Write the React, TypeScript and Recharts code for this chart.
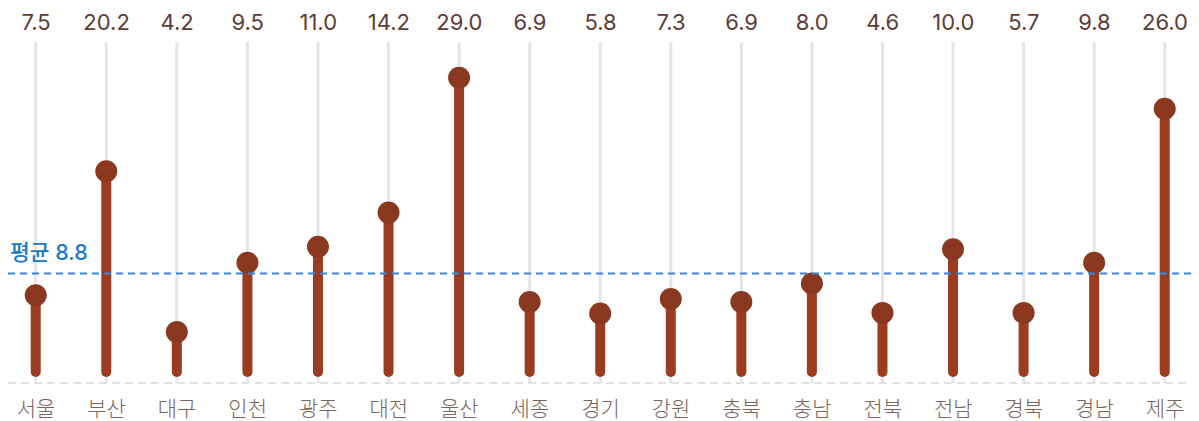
import React from 'react';
import { ComposedChart, Bar, XAxis, YAxis, ReferenceLine, Line } from 'recharts';

const regions = ['서울', '부산', '대구', '인천', '광주', '대전', '울산', '세종', '경기', '강원', '충북', '충남', '전북', '전남', '경북', '경남', '제주'];
const shownValues = ['7.5', '20.2', '4.2', '9.5', '11.0', '14.2', '29.0', '6.9', '5.8', '7.3', '6.9', '8.0', '4.6', '10.0', '5.7', '9.8', '26.0'];
const plottedValues = [7.9, 19.9, 4.35, 11.05, 12.6, 15.9, 28.95, 7.25, 6.15, 7.55, 7.25, 9.05, 6.2, 12.35, 6.2, 11.05, 25.95];
const averagePlotted = 10.0;
const averageLabel = '평균 8.8';
const yDomain = [-0.58, 32.4];

const data = regions.map((name, i) => ({ name, shown: shownValues[i], value: plottedValues[i] }));

const STEM = '#9b3c21';
const DOT = '#8a3920';
const FONT = '"Noto Sans CJK KR", "Noto Sans", sans-serif';
const NUM_FONT = 'Inter, "Noto Sans CJK KR", sans-serif';

const Lollipop = (props: any) => {
  const { x, y, width, height } = props;
  const cx = x + width / 2;
  const base = y + height;
  return (
    <g>
      <line x1={cx} x2={cx} y1={base - 5} y2={y} stroke={STEM} strokeWidth={10} strokeLinecap="round" />
      <circle cx={cx} cy={y} r={11} fill={DOT} />
    </g>
  );
};

const GridLine = (props: any) => {
  const { x, y, width, height } = props;
  const cx = x + width / 2;
  return <line x1={cx} x2={cx} y1={y} y2={y + height} stroke="#e6e6e6" strokeWidth={3} />;
};

const TopTick = (props: any) => {
  const { x, y, payload } = props;
  const label = shownValues[payload.index] ?? '';
  return (
    <text x={x} y={y - 20.5} textAnchor="middle" dominantBaseline="central" fill="#5e3c35" fontSize={22} fontWeight={400} fontFamily={NUM_FONT}>
      {label}
    </text>
  );
};

const BottomTick = (props: any) => {
  const { x, y, payload } = props;
  return (
    <text x={x} y={y + 24} textAnchor="middle" dominantBaseline="central" fill="#7b6460" fontSize={21} fontWeight={300} fontFamily={FONT}>
      {payload.value}
    </text>
  );
};

const AvgLabel = (props: any) => {
  const { viewBox } = props;
  return (
    <text x={viewBox.x + 2} y={viewBox.y - 22} dominantBaseline="central" fill="#1a7ac8" fontSize={21.5} fontWeight={500} fontFamily={NUM_FONT}>
      {averageLabel}
    </text>
  );
};

export default function App() {
  return (
    <div style={{ position: 'absolute', left: 0, top: 0, width: 1199, height: 421, background: '#fff' }}>
      <ComposedChart width={1199} height={421} data={data} margin={{ top: 0, right: 8, bottom: 0, left: 8 }}>
        <XAxis
          xAxisId="top"
          orientation="top"
          dataKey="name"
          scale="point"
          padding={{ left: 28, right: 26 }}
          height={42}
          axisLine={false}
          tickLine={false}
          tickSize={0}
          tickMargin={0}
          interval={0}
          tick={<TopTick />}
        />
        <XAxis
          dataKey="name"
          scale="point"
          padding={{ left: 28, right: 26 }}
          height={38}
          axisLine={{ stroke: '#e2e2e2', strokeWidth: 2, strokeDasharray: '8 5' }}
          tickLine={false}
          tickSize={0}
          tickMargin={0}
          interval={0}
          tick={<BottomTick />}
        />
        <YAxis hide domain={yDomain} type="number" allowDataOverflow />
        <Line xAxisId="top" dataKey="value" stroke="none" dot={false} activeDot={false} isAnimationActive={false} />
        <Bar dataKey="value" barSize={10} background={<GridLine />} shape={<Lollipop />} isAnimationActive={false} />
        <ReferenceLine y={averagePlotted} stroke="#3a84d6" strokeWidth={2} strokeDasharray="7 5" label={<AvgLabel />} />
      </ComposedChart>
    </div>
  );
}
